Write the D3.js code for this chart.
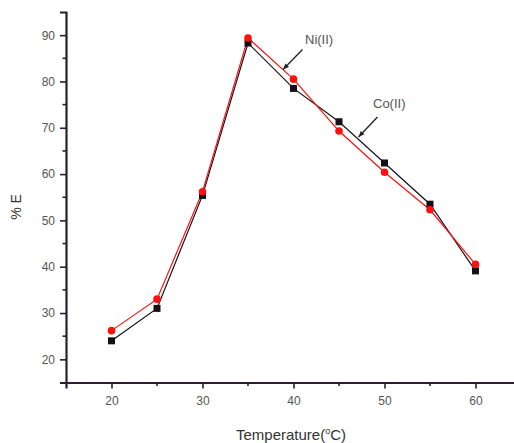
<!DOCTYPE html>
<html><head><meta charset="utf-8">
<script src="https://cdn.jsdelivr.net/npm/d3@7"></script>
<style>body{margin:0;background:#fff}svg{display:block}</style>
</head><body>
<script>
const temps = [20, 25, 30, 35, 40, 45, 50, 55, 60];
const coValues = [24, 31, 55.4, 88.3, 78.5, 71.3, 62.4, 53.5, 39.1];
const niValues = [26.2, 33, 56.2, 89.4, 80.5, 69.3, 60.4, 52.3, 40.5];
const xTicks = [20, 30, 40, 50, 60];
const yTicks = [20, 30, 40, 50, 60, 70, 80, 90];

const W = 514, H = 443;
const svg = d3.select("body").append("svg").attr("width", W).attr("height", H);
const x = d3.scaleLinear().domain([15, 65]).range([66, 521]);
const y = d3.scaleLinear().domain([15, 95]).range([382.5, 12]);
const axisColor = "#2b1d33";
const font = "Liberation Sans, Arial, sans-serif";

// axes
const gx = svg.append("g").attr("transform", `translate(0,${y(15)})`)
  .call(d3.axisBottom(x).tickValues(xTicks).tickSize(6).tickPadding(8).tickFormat(d3.format("d")));
gx.append("g").selectAll("line").data([25,35,45,55]).join("line")
  .attr("x1", d=>x(d)).attr("x2", d=>x(d)).attr("y1",0).attr("y2",3.5).attr("stroke",axisColor).attr("stroke-width",1.6);
const gy = svg.append("g").attr("transform", `translate(${x(15)},0)`)
  .call(d3.axisLeft(y).tickValues(yTicks).tickSize(6).tickPadding(5).tickFormat(d3.format("d")));
gy.append("g").selectAll("line").data([25,35,45,55,65,75,85]).join("line")
  .attr("y1", d=>y(d)).attr("y2", d=>y(d)).attr("x1",0).attr("x2",-3.5).attr("stroke",axisColor).attr("stroke-width",1.6);
[gx, gy].forEach(g => {
  g.select(".domain").attr("stroke", axisColor).attr("stroke-width", 2.2);
  g.selectAll(".tick line").attr("stroke", axisColor).attr("stroke-width", 1.6);
  g.selectAll(".tick text").attr("fill", "#555").attr("font-family", font).attr("font-size", 12);
});

// lines
const coData = temps.map((t,i)=>({t, v: coValues[i]}));
const niData = temps.map((t,i)=>({t, v: niValues[i]}));
const line = d3.line().x(d=>x(d.t)).y(d=>y(d.v));
svg.append("path").datum(coData).attr("d", line).attr("fill","none").attr("stroke","#151018").attr("stroke-width",1.2);
svg.append("path").datum(niData).attr("d", line).attr("fill","none").attr("stroke","#ff1010").attr("stroke-width",1.2);
svg.append("g").selectAll("rect").data(coData).join("rect")
  .attr("x", d=>x(d.t)-3.5).attr("y", d=>y(d.v)-3.5).attr("width",7).attr("height",7).attr("fill","#151018");
svg.append("g").selectAll("circle").data(niData).join("circle")
  .attr("cx", d=>x(d.t)).attr("cy", d=>y(d.v)).attr("r",3.8).attr("fill","#ff1010");

// annotations
function leader(x1,y1,x2,y2){
  svg.append("line").attr("x1",x1).attr("y1",y1).attr("x2",x2).attr("y2",y2).attr("stroke","#222").attr("stroke-width",1.3);
  const a = Math.atan2(y2-y1, x2-x1);
  const L = 6, w = 2.5;
  const p = [[x2,y2],[x2-L*Math.cos(a)+w*Math.sin(a), y2-L*Math.sin(a)-w*Math.cos(a)],[x2-L*Math.cos(a)-w*Math.sin(a), y2-L*Math.sin(a)+w*Math.cos(a)]];
  svg.append("polygon").attr("points", p.map(q=>q.join(",")).join(" ")).attr("fill","#222");
}
leader(302.5, 49.5, 283, 69.5);
leader(377.5, 117, 358.5, 137);
svg.append("text").attr("x", 305).attr("y", 44).attr("font-family", font).attr("font-size", 13).attr("fill","#555").text("Ni(II)");
svg.append("text").attr("x", 373).attr("y", 108).attr("font-family", font).attr("font-size", 13).attr("fill","#555").text("Co(II)");

// axis titles
svg.append("text").attr("transform","translate(21,207) rotate(-90)").attr("text-anchor","middle")
  .attr("font-family", font).attr("font-size", 14).attr("fill","#333").text("% E");
const xt = svg.append("text").attr("x", 291).attr("y", 440).attr("text-anchor","middle")
  .attr("font-family", font).attr("font-size", 15).attr("fill","#333");
xt.append("tspan").text("Temperature(");
xt.append("tspan").attr("dy",-6).attr("font-size",9).text("o");
xt.append("tspan").attr("dy",6).text("C)");
</script>
</body></html>
